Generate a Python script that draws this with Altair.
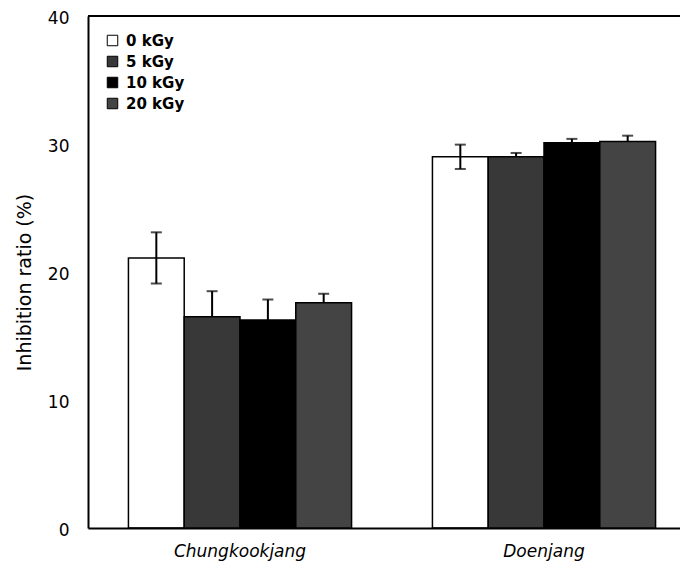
import altair as alt
import pandas as pd

foods = ["Chungkookjang", "Doenjang"]
doses = ["0 kGy", "5 kGy", "10 kGy", "20 kGy"]
chung_vals = [21.1, 16.5, 16.25, 17.6]
chung_sd = [2.0, 2.0, 1.6, 0.7]
doen_vals = [29.0, 29.0, 30.1, 30.2]
doen_sd = [0.95, 0.3, 0.3, 0.45]
dose_colors = ["transparent", "#383838", "#000000", "#444444"]

rows = []
for food, vals, sds in [(foods[0], chung_vals, chung_sd), (foods[1], doen_vals, doen_sd)]:
    for d, v, s in zip(doses, vals, sds):
        rows.append({"food": food, "dose": d, "value": v, "lo": v - s, "hi": v + s})
df = pd.DataFrame(rows)

FONT = "DejaVu Sans"

x_enc = alt.X(
    "food:N",
    sort=foods,
    scale=alt.Scale(range=[0, 608], paddingInner=0.266, paddingOuter=0.133),
    axis=alt.Axis(
        title=None, labelAngle=0, ticks=False, tickSize=0, labelPadding=15,
        labelFontStyle="italic", labelFont=FONT, labelFontSize=17, labelColor="black",
        domainColor="black", domainWidth=2,
    ),
)
xoff = alt.XOffset("dose:N", sort=doses)

base = alt.Chart(df)

err_rule = base.mark_rule(color="black", strokeWidth=2).encode(
    x=x_enc, xOffset=xoff,
    y=alt.Y("lo:Q"), y2="hi:Q",
)
cap_hi = base.mark_tick(color="black", thickness=2, size=11, orient="horizontal").encode(
    x=x_enc, xOffset=xoff, y="hi:Q"
)
cap_lo = base.mark_tick(color="black", thickness=2, size=11, orient="horizontal").encode(
    x=x_enc, xOffset=xoff, y="lo:Q"
)

bars = base.mark_bar(stroke="black", strokeWidth=1.5).encode(
    x=x_enc,
    xOffset=xoff,
    y=alt.Y(
        "value:Q",
        scale=alt.Scale(domain=[0, 40]),
        axis=alt.Axis(
            title="Inhibition ratio (%)", values=[0, 10, 20, 30, 40], grid=False,
            ticks=False, tickSize=0, labelPadding=19, labelOffset=2, labelFont=FONT,
            labelFontSize=17, labelColor="black", titleFont=FONT, titleFontSize=19,
            titleFontWeight="normal", titleColor="black", titleAngle=270,
            titleX=-64, titleY=266, titleAlign="center", titleBaseline="middle",
            domainColor="black", domainWidth=2,
        ),
    ),
    fill=alt.Fill(
        "dose:N", sort=doses,
        scale=alt.Scale(domain=doses, range=dose_colors),
        legend=alt.Legend(
            title=None, orient="none", legendX=17, legendY=17, padding=0,
            symbolType="square", symbolSize=110, symbolStrokeColor="black",
            symbolStrokeWidth=1, labelFont=FONT, labelFontSize=15, labelFontWeight="bold",
            labelColor="black", labelOffset=6, rowPadding=5,
            labelExpr="length(datum.label) < 6 ? '\u00a0' + datum.label : datum.label",
        ),
    ),
)

top_border = alt.Chart(pd.DataFrame({"a": [0]})).mark_rule(color="black", strokeWidth=2).encode(
    x=alt.value(0), x2=alt.value(620), y=alt.value(0)
)

chart = alt.layer(err_rule, cap_hi, cap_lo, bars, top_border).properties(
    width=592, height=512,
    autosize=alt.AutoSizeParams(type="none"),
    padding={"left": 80, "top": 8, "right": 0, "bottom": 34},
).configure_view(stroke=None).configure(background="white")

chart.save("out.html", embed_options={"renderer": "svg", "actions": False})
